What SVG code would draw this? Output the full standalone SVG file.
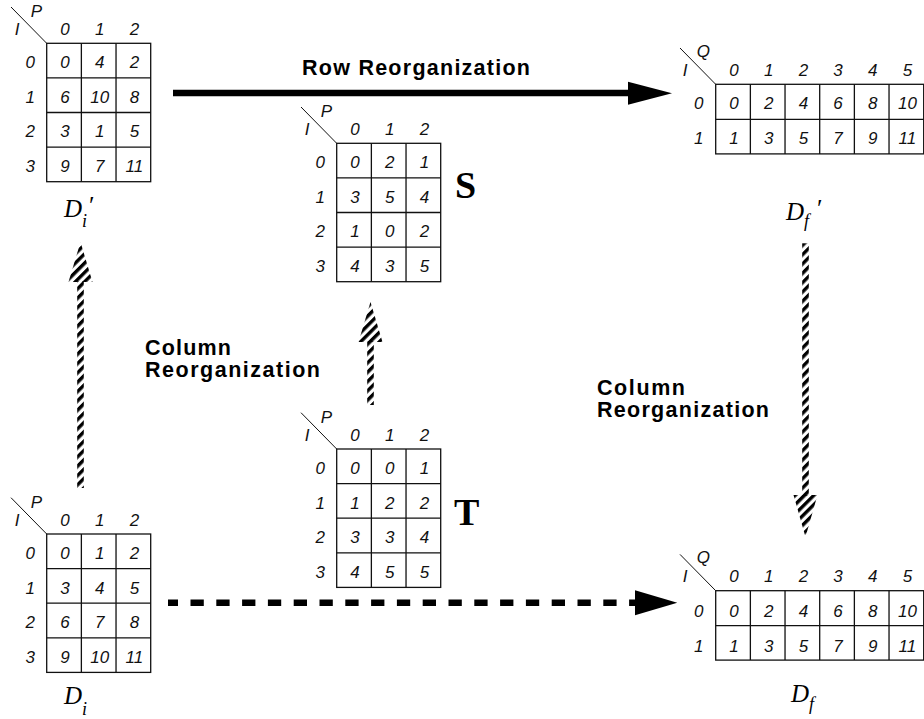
<svg xmlns="http://www.w3.org/2000/svg" width="924" height="719" viewBox="0 0 924 719">
  <style>
    .grid { fill: none; stroke: #111; stroke-width: 1.3; }
    .diag { stroke: #111; stroke-width: 1; }
    .num { font-family: "Liberation Sans", Arial, sans-serif; font-style: italic; font-size: 17px; fill: #111; text-anchor: middle; }
    .axis { font-family: "Liberation Sans", Arial, sans-serif; font-style: italic; font-size: 17px; fill: #111; }
    .op { font-family: "Liberation Sans", Arial, sans-serif; font-weight: bold; font-size: 21.5px; fill: #000; }
    .big { font-family: "Liberation Serif", "Times New Roman", serif; font-weight: bold; font-size: 38px; fill: #000; }
    .lbl { font-family: "Liberation Serif", "Times New Roman", serif; font-style: italic; font-size: 25px; fill: #000; }
    .sub { font-size: 18px; }
    .solid { stroke: #000; stroke-width: 6.5; fill: none; }
    .dash { stroke: #000; stroke-width: 6.5; fill: none; stroke-dasharray: 13.3 12.5; stroke-dashoffset: 3.3; }
    .head { fill: #000; }
    .hatched { fill: url(#hatch); }
  </style>
  <defs>
    <pattern id="hatch" patternUnits="userSpaceOnUse" width="6.6" height="6.6" patternTransform="rotate(45)">
      <rect width="3.4" height="6.6" fill="#000"/>
    </pattern>
  </defs>

  <rect width="924" height="719" fill="#fff"/>

  <!-- Di' : 4x3 index table -->
  <g id="table-Di-prime" transform="translate(46.7,43.3)">
    <line class="diag" x1="-35.7" y1="-36.3" x2="0" y2="0"/>
    <text class="axis" x="-16" y="-26">P</text>
    <text class="axis" x="-32" y="-8">I</text>
    <rect class="grid" x="0" y="0" width="104" height="138.4"/>
    <path class="grid" d="M34.67,0V138.4M69.33,0V138.4M0,34.6H104M0,69.2H104M0,103.8H104"/>
    <text class="num" x="18.3" y="-8.3">0</text><text class="num" x="53" y="-8.3">1</text><text class="num" x="87.7" y="-8.3">2</text>
    <text class="num" x="-16.5" y="25">0</text><text class="num" x="-16.5" y="59.6">1</text><text class="num" x="-16.5" y="94.2">2</text><text class="num" x="-16.5" y="128.8">3</text>
    <text class="num" x="18.3" y="25">0</text><text class="num" x="53" y="25">4</text><text class="num" x="87.7" y="25">2</text>
    <text class="num" x="18.3" y="59.6">6</text><text class="num" x="53" y="59.6">10</text><text class="num" x="87.7" y="59.6">8</text>
    <text class="num" x="18.3" y="94.2">3</text><text class="num" x="53" y="94.2">1</text><text class="num" x="87.7" y="94.2">5</text>
    <text class="num" x="18.3" y="128.8">9</text><text class="num" x="53" y="128.8">7</text><text class="num" x="87.7" y="128.8">11</text>
  </g>
  <g id="label-Di-prime">
    <text class="lbl" x="64" y="216.5">D<tspan class="sub" dy="10">i</tspan></text>
    <text class="lbl" x="87.5" y="214">′</text>
  </g>

  <!-- S : 4x3 table -->
  <g id="table-S" transform="translate(336.7,143.3)">
    <line class="diag" x1="-35.7" y1="-36.3" x2="0" y2="0"/>
    <text class="axis" x="-16" y="-26">P</text>
    <text class="axis" x="-32" y="-8">I</text>
    <rect class="grid" x="0" y="0" width="104" height="138.4"/>
    <path class="grid" d="M34.67,0V138.4M69.33,0V138.4M0,34.6H104M0,69.2H104M0,103.8H104"/>
    <text class="num" x="18.3" y="-8.3">0</text><text class="num" x="53" y="-8.3">1</text><text class="num" x="87.7" y="-8.3">2</text>
    <text class="num" x="-16.5" y="25">0</text><text class="num" x="-16.5" y="59.6">1</text><text class="num" x="-16.5" y="94.2">2</text><text class="num" x="-16.5" y="128.8">3</text>
    <text class="num" x="18.3" y="25">0</text><text class="num" x="53" y="25">2</text><text class="num" x="87.7" y="25">1</text>
    <text class="num" x="18.3" y="59.6">3</text><text class="num" x="53" y="59.6">5</text><text class="num" x="87.7" y="59.6">4</text>
    <text class="num" x="18.3" y="94.2">1</text><text class="num" x="53" y="94.2">0</text><text class="num" x="87.7" y="94.2">2</text>
    <text class="num" x="18.3" y="128.8">4</text><text class="num" x="53" y="128.8">3</text><text class="num" x="87.7" y="128.8">5</text>
    <text class="big" x="118.3" y="54.7">S</text>
  </g>

  <!-- T : 4x3 table -->
  <g id="table-T" transform="translate(336.7,449)">
    <line class="diag" x1="-35.7" y1="-36.3" x2="0" y2="0"/>
    <text class="axis" x="-16" y="-26">P</text>
    <text class="axis" x="-32" y="-8">I</text>
    <rect class="grid" x="0" y="0" width="104" height="138.4"/>
    <path class="grid" d="M34.67,0V138.4M69.33,0V138.4M0,34.6H104M0,69.2H104M0,103.8H104"/>
    <text class="num" x="18.3" y="-8.3">0</text><text class="num" x="53" y="-8.3">1</text><text class="num" x="87.7" y="-8.3">2</text>
    <text class="num" x="-16.5" y="25">0</text><text class="num" x="-16.5" y="59.6">1</text><text class="num" x="-16.5" y="94.2">2</text><text class="num" x="-16.5" y="128.8">3</text>
    <text class="num" x="18.3" y="25">0</text><text class="num" x="53" y="25">0</text><text class="num" x="87.7" y="25">1</text>
    <text class="num" x="18.3" y="59.6">1</text><text class="num" x="53" y="59.6">2</text><text class="num" x="87.7" y="59.6">2</text>
    <text class="num" x="18.3" y="94.2">3</text><text class="num" x="53" y="94.2">3</text><text class="num" x="87.7" y="94.2">4</text>
    <text class="num" x="18.3" y="128.8">4</text><text class="num" x="53" y="128.8">5</text><text class="num" x="87.7" y="128.8">5</text>
    <text class="big" x="117.3" y="76">T</text>
  </g>

  <!-- Di : 4x3 index table -->
  <g id="table-Di" transform="translate(46.7,534)">
    <line class="diag" x1="-35.7" y1="-36.3" x2="0" y2="0"/>
    <text class="axis" x="-16" y="-26">P</text>
    <text class="axis" x="-32" y="-8">I</text>
    <rect class="grid" x="0" y="0" width="104" height="138.4"/>
    <path class="grid" d="M34.67,0V138.4M69.33,0V138.4M0,34.6H104M0,69.2H104M0,103.8H104"/>
    <text class="num" x="18.3" y="-8.3">0</text><text class="num" x="53" y="-8.3">1</text><text class="num" x="87.7" y="-8.3">2</text>
    <text class="num" x="-16.5" y="25">0</text><text class="num" x="-16.5" y="59.6">1</text><text class="num" x="-16.5" y="94.2">2</text><text class="num" x="-16.5" y="128.8">3</text>
    <text class="num" x="18.3" y="25">0</text><text class="num" x="53" y="25">1</text><text class="num" x="87.7" y="25">2</text>
    <text class="num" x="18.3" y="59.6">3</text><text class="num" x="53" y="59.6">4</text><text class="num" x="87.7" y="59.6">5</text>
    <text class="num" x="18.3" y="94.2">6</text><text class="num" x="53" y="94.2">7</text><text class="num" x="87.7" y="94.2">8</text>
    <text class="num" x="18.3" y="128.8">9</text><text class="num" x="53" y="128.8">10</text><text class="num" x="87.7" y="128.8">11</text>
  </g>
  <g id="label-Di">
    <text class="lbl" x="64" y="704">D<tspan class="sub" dy="10.5">i</tspan></text>
  </g>

  <!-- Df' : 2x6 table -->
  <g id="table-Df-prime" transform="translate(715.7,84.3)">
    <line class="diag" x1="-35.7" y1="-36.3" x2="0" y2="0"/>
    <text class="axis" x="-19" y="-27.7">Q</text>
    <text class="axis" x="-33" y="-8.3">I</text>
    <rect class="grid" x="0" y="0" width="208" height="69.6"/>
    <path class="grid" d="M34.67,0V69.6M69.33,0V69.6M104,0V69.6M138.67,0V69.6M173.33,0V69.6M0,35H208"/>
    <text class="num" x="18.3" y="-8.3">0</text><text class="num" x="53" y="-8.3">1</text><text class="num" x="87.7" y="-8.3">2</text><text class="num" x="122.3" y="-8.3">3</text><text class="num" x="157" y="-8.3">4</text><text class="num" x="191.7" y="-8.3">5</text>
    <text class="num" x="-17" y="25">0</text><text class="num" x="-17" y="60">1</text>
    <text class="num" x="18.3" y="25">0</text><text class="num" x="53" y="25">2</text><text class="num" x="87.7" y="25">4</text><text class="num" x="122.3" y="25">6</text><text class="num" x="157" y="25">8</text><text class="num" x="191.7" y="25">10</text>
    <text class="num" x="18.3" y="60">1</text><text class="num" x="53" y="60">3</text><text class="num" x="87.7" y="60">5</text><text class="num" x="122.3" y="60">7</text><text class="num" x="157" y="60">9</text><text class="num" x="191.7" y="60">11</text>
  </g>
  <g id="label-Df-prime">
    <text class="lbl" x="786" y="220">D<tspan class="sub" dy="7">f</tspan></text>
    <text class="lbl" x="815.5" y="217">′</text>
  </g>

  <!-- Df : 2x6 table -->
  <g id="table-Df" transform="translate(715.7,590.7)">
    <line class="diag" x1="-35.7" y1="-36.3" x2="0" y2="0"/>
    <text class="axis" x="-19" y="-27.7">Q</text>
    <text class="axis" x="-33" y="-8.7">I</text>
    <rect class="grid" x="0" y="0" width="208" height="69.4"/>
    <path class="grid" d="M34.67,0V69.4M69.33,0V69.4M104,0V69.4M138.67,0V69.4M173.33,0V69.4M0,35H208"/>
    <text class="num" x="18.3" y="-8.7">0</text><text class="num" x="53" y="-8.7">1</text><text class="num" x="87.7" y="-8.7">2</text><text class="num" x="122.3" y="-8.7">3</text><text class="num" x="157" y="-8.7">4</text><text class="num" x="191.7" y="-8.7">5</text>
    <text class="num" x="-17" y="26">0</text><text class="num" x="-17" y="61">1</text>
    <text class="num" x="18.3" y="26">0</text><text class="num" x="53" y="26">2</text><text class="num" x="87.7" y="26">4</text><text class="num" x="122.3" y="26">6</text><text class="num" x="157" y="26">8</text><text class="num" x="191.7" y="26">10</text>
    <text class="num" x="18.3" y="61">1</text><text class="num" x="53" y="61">3</text><text class="num" x="87.7" y="61">5</text><text class="num" x="122.3" y="61">7</text><text class="num" x="157" y="61">9</text><text class="num" x="191.7" y="61">11</text>
  </g>
  <g id="label-Df">
    <text class="lbl" x="791" y="701.7">D<tspan class="sub" dy="8">f</tspan></text>
  </g>

  <!-- operation captions -->
  <g id="captions">
    <text class="op" x="302" y="75" textLength="228" lengthAdjust="spacing">Row Reorganization</text>
    <text class="op" x="145" y="355" textLength="86" lengthAdjust="spacing">Column</text>
    <text class="op" x="145" y="377" textLength="175" lengthAdjust="spacing">Reorganization</text>
    <text class="op" x="597" y="395" textLength="88" lengthAdjust="spacing">Column</text>
    <text class="op" x="597" y="417" textLength="172" lengthAdjust="spacing">Reorganization</text>
  </g>

  <!-- connectors -->
  <g id="connectors">
    <!-- row reorganization: Di' -> Df' -->
    <line class="solid" x1="173" y1="93" x2="630" y2="93"/>
    <polygon class="head" points="628,81.7 672,93.2 628,104.8"/>
    <!-- direct mapping: Di -> Df -->
    <line class="dash" x1="168" y1="602.7" x2="636" y2="602.7"/>
    <polygon class="head" points="635,590.2 677.3,602.7 635,615.2"/>
    <!-- column reorganization: Di -> Di' -->
    <rect class="hatched" x="77.2" y="281" width="6.6" height="207"/>
    <polygon class="hatched" points="68.5,282 80.5,242 92.5,282"/>
    <!-- T -> S -->
    <rect class="hatched" x="367.2" y="341" width="6.6" height="64"/>
    <polygon class="hatched" points="358.5,342 370.5,302 382.5,342"/>
    <!-- column reorganization: Df' -> Df -->
    <rect class="hatched" x="802.2" y="243.3" width="6.6" height="252.7"/>
    <polygon class="hatched" points="793.5,495 805.5,537 817.5,495"/>
  </g>
</svg>
